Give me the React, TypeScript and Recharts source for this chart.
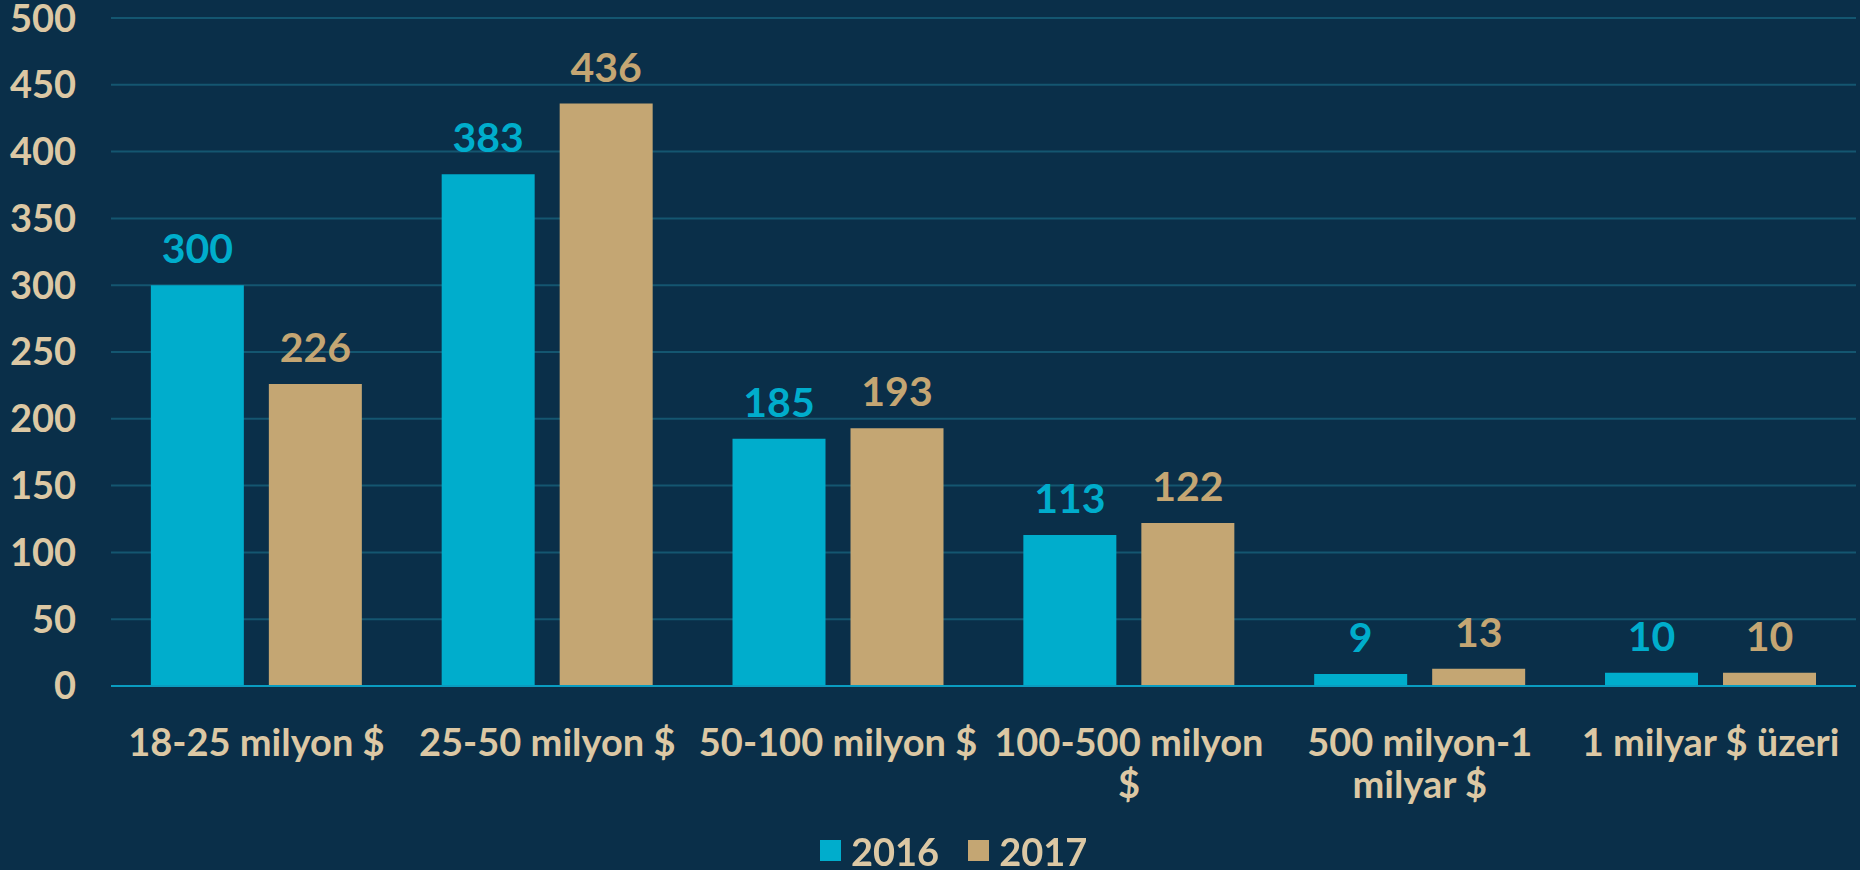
import { Bar, BarChart, CartesianGrid, LabelList, Legend, XAxis, YAxis } from "recharts"

const categories = [
  "18-25 milyon $",
  "25-50 milyon $",
  "50-100 milyon $",
  "100-500 milyon $",
  "500 milyon-1 milyar $",
  "1 milyar $ üzeri",
]
// how the category names break onto lines under the axis
const tickLabels = [
  ["18-25 milyon $"],
  ["25-50 milyon $"],
  ["50-100 milyon $"],
  ["100-500 milyon", "$"],
  ["500 milyon-1", "milyar $"],
  ["1 milyar $ üzeri"],
]
const values2016 = [300, 383, 185, 113, 9, 10]
const values2017 = [226, 436, 193, 122, 13, 10]
const yTicks = [0, 50, 100, 150, 200, 250, 300, 350, 400, 450, 500]

const BG = "#0a2f49"
const BLUE = "#00adcc"
const TAN = "#c4a673"
const TEXT = "#dcc8a4"
const GRID = "#145670"
const FONT = "Lato, 'Open Sans', sans-serif"

const data = categories.map((name, i) => ({
  name,
  y2016: values2016[i],
  y2017: values2017[i],
}))

function CategoryTick({ x, y, index }: any) {
  const lines = tickLabels[index] ?? []
  return (
    <text
      x={x}
      y={y}
      textAnchor="middle"
      fill={TEXT}
      fontSize={38}
      fontWeight={700}
      fontFamily={FONT}
    >
      {lines.map((l, i) => (
        <tspan key={i} x={x} dy={i === 0 ? 62 : 42}>
          {l}
        </tspan>
      ))}
    </text>
  )
}

function LegendBox() {
  const items = [
    { label: "2016", color: BLUE },
    { label: "2017", color: TAN },
  ]
  return (
    <div
      style={{
        display: "flex",
        alignItems: "center",
        height: 39,
        paddingTop: 8,
        fontFamily: FONT,
        fontWeight: 700,
        fontSize: 38,
        lineHeight: 1,
        color: TEXT,
      }}
    >
      {items.map((it, i) => (
        <div
          key={it.label}
          style={{ display: "flex", alignItems: "center", marginLeft: i ? 29 : 0 }}
        >
          <span style={{ width: 21, height: 21, background: it.color, marginRight: 10 }} />
          <span>{it.label}</span>
        </div>
      ))}
    </div>
  )
}

export default function App() {
  return (
    <div
      style={{
        position: "fixed",
        left: 0,
        top: 0,
        width: 1860,
        height: 870,
        background: BG,
      }}
    >
      <BarChart
        width={1860}
        height={870}
        data={data}
        margin={{ top: 18, right: 4, left: 0, bottom: 0 }}
        barCategoryGap="13.7%"
        barGap={25}
      >
        <CartesianGrid vertical={false} stroke={GRID} strokeWidth={2} />
        <XAxis
          dataKey="name"
          height={137}
          tickLine={false}
          axisLine={{ stroke: "#0a9cc0", strokeWidth: 2 }}
          interval={0}
          tick={<CategoryTick />}
        />
        <YAxis
          width={111}
          domain={[0, 500]}
          ticks={yTicks}
          interval={0}
          axisLine={false}
          tickLine={false}
          tickSize={0}
          tickMargin={35}
          tick={{ fill: TEXT, fontSize: 38, fontWeight: 700, fontFamily: FONT }}
        />
        <Legend
          verticalAlign="bottom"
          content={<LegendBox />}
          wrapperStyle={{ left: 820, width: "auto" }}
        />
        <Bar dataKey="y2016" name="2016" fill={BLUE} isAnimationActive={false}>
          <LabelList
            dataKey="y2016"
            position="top"
            offset={22}
            fill={BLUE}
            fontSize={41}
            fontWeight={700}
            fontFamily={FONT}
          />
        </Bar>
        <Bar dataKey="y2017" name="2017" fill={TAN} isAnimationActive={false}>
          <LabelList
            dataKey="y2017"
            position="top"
            offset={22}
            fill={TAN}
            fontSize={41}
            fontWeight={700}
            fontFamily={FONT}
          />
        </Bar>
      </BarChart>
    </div>
  )
}
